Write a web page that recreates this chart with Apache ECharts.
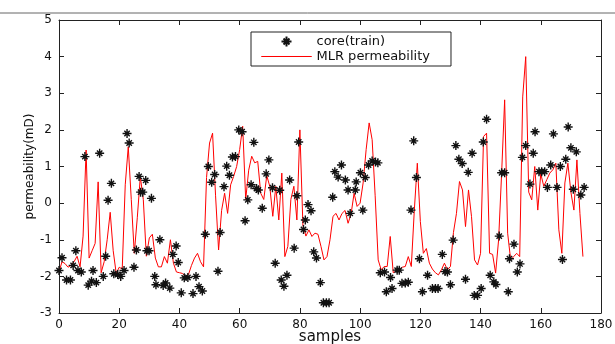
<!DOCTYPE html>
<html>
<head>
<meta charset="utf-8">
<script src="https://cdn.jsdelivr.net/npm/echarts@6/dist/echarts.min.js"></script>
<style>html,body{margin:0;padding:0;background:#fff}#c{width:615px;height:344px}</style>
</head>
<body>
<div id="c"></div>
<script>
// x tick labels / y tick labels
var xTicks = [0, 20, 40, 60, 80, 100, 120, 140, 160, 180];
var yTicks = [-3, -2, -1, 0, 1, 2, 3, 4, 5];

// MLR permeability (line), one value per sample 0..174
var mlrValues = [
 -1.88,-1.6,-1.65,-1.75,-1.7,-1.6,-1.45,-1.74,-0.9,1.45,
 -1.5,-1.3,-1.1,0.58,-1.9,-1.6,-1.0,-0.25,-1.3,-1.92,
 -1.75,-1.8,0.5,1.54,0.1,-1.37,-0.4,0.72,0.1,-1.45,
 -0.95,-0.85,-1.5,-1.74,-1.74,-1.46,-1.64,-1.0,-1.64,-1.88,
 -1.9,-1.92,-2.0,-1.95,-1.7,-1.5,-1.37,-1.6,-1.74,0.7,
 1.64,1.91,0.2,-1.28,-0.2,0.27,-0.28,0.5,0.73,1.0,
 1.46,2.1,0.1,0.9,1.28,1.1,1.14,0.27,0.1,0.75,
 0.46,-0.36,0.46,-0.46,0.82,-1.46,-1.18,0.1,0.46,-0.46,
 2.0,-0.6,-0.9,-0.73,-0.91,-0.82,-0.85,-1.18,-1.55,-1.46,
 -1.0,-0.36,-0.28,-0.46,-0.28,-0.2,-0.55,-0.3,0.27,-0.09,
 0.0,0.55,1.46,2.19,1.73,0.2,-1.55,-1.82,-1.73,-1.73,
 -0.91,-1.9,-1.85,-1.82,-1.75,-1.73,-1.46,-1.73,-0.2,1.09,
 -0.5,-1.37,-1.24,-1.64,-1.8,-1.9,-1.96,-1.82,-1.64,-1.82,
 -1.73,-0.8,-0.28,0.59,0.36,-0.64,0.36,-0.37,-1.55,-1.69,
 -1.37,1.82,1.91,-1.37,-1.4,-1.91,-1.0,0.82,2.82,-0.82,
 -1.55,-1.46,-1.37,-1.46,2.9,4.0,0.3,0.09,1.0,-0.19,
 0.8,0.46,0.64,0.82,0.91,1.09,-0.73,-1.37,0.55,1.09,
 0.3,-0.19,1.18,-0.28,-1.46
];

// core(train) samples: positions and values
var coreX = [
 0,1,2.5,3.8,4.7,5.6,6.3,7.4,8.6,9.7,10.8,11.3,12.4,13.5,14.7,15.5,16.3,17.4,18.2,19.5,
 20.5,21.6,22.6,23.3,24.9,25.7,26.6,27.1,27.8,28.8,29.2,29.9,30.7,31.8,32.2,33.5,34.6,35.4,36.8,37.8,
 38.9,39.6,40.6,41.6,42.8,44.5,45.5,46.5,47.6,48.6,49.6,50.7,51.7,52.8,53.5,54.8,55.7,56.6,57.6,58.6,
 59.7,60.8,61.8,62.7,63.8,64.7,65.6,66.2,67.5,68.8,69.7,70.9,71.8,73.3,73.8,74.7,75.7,76.6,78.1,79.0,
 79.6,81.2,81.8,82.7,83.7,84.6,85.5,86.8,87.8,88.8,89.7,90.9,91.6,92.7,93.8,95.1,96.0,96.7,98.4,98.7,
 100.1,100.9,101.7,102.8,104.0,105.1,105.9,106.7,108.1,108.7,110.1,110.6,112.3,113.0,113.9,115.0,116.0,116.9,117.8,118.7,
 119.7,120.7,122.4,124.0,125.0,125.9,127.3,128.2,129.0,130.0,130.9,131.8,132.8,133.9,135.0,135.9,137.2,137.9,139.0,140.2,
 140.9,142.0,143.2,144.4,145.1,146.2,147.0,148.0,149.2,149.6,151.1,152.2,153.1,153.9,155.0,156.4,157.5,158.1,159.4,160.3,
 161.3,162.2,163.3,164.2,165.4,166.5,167.2,168.3,169.1,170.0,170.8,171.8,173.3,174.4
];
var coreY = [
 -1.84,-1.49,-2.1,-2.1,-1.7,-1.3,-1.84,-1.88,1.27,-2.24,-2.13,-1.84,-2.17,1.36,-2.0,-1.45,0.08,0.54,-1.93,-1.95,
 -2.0,-1.84,1.9,1.64,-1.75,-1.28,0.73,0.3,0.3,0.62,-1.3,-1.3,0.13,-2.0,-2.23,-1.0,-2.25,-2.18,-2.32,-1.4,
 -1.17,-1.62,-2.45,-2.04,-2.03,-2.47,-2.0,-2.28,-2.4,-0.85,1.0,0.57,0.78,-1.86,-0.8,0.45,1.01,0.76,1.26,1.27,
 2.0,1.95,-0.48,0.09,0.5,1.66,0.4,0.36,-0.14,0.8,1.18,0.42,-1.64,0.35,-2.1,-2.27,-1.97,0.63,-1.23,0.2,
 1.67,-0.72,-0.46,-0.04,-0.21,-1.33,-1.5,-2.17,-2.72,-2.72,-2.72,0.16,0.86,0.71,1.04,0.63,0.36,-0.28,0.36,0.58,
 0.83,-0.19,0.7,1.04,1.15,1.12,1.1,-1.9,-1.88,-2.42,-2.03,-2.33,-1.83,-1.83,-2.19,-2.18,-2.16,-0.19,1.7,0.7,
 -1.52,-2.42,-1.97,-2.33,-2.33,-2.33,-1.4,-1.87,-1.88,-2.23,-1.01,1.57,1.2,1.08,-2.08,0.84,1.36,-2.52,-2.52,-2.33,
 1.67,2.29,-1.97,-2.15,-2.22,-0.9,0.83,0.83,-2.42,-1.52,-1.12,-1.88,-1.66,1.25,1.57,0.52,1.36,1.95,0.86,0.86,
 0.86,0.43,1.04,1.89,0.43,1.0,-1.54,1.2,2.08,1.51,0.38,1.4,0.22,0.43
];

var lineData = mlrValues.map(function (v, i) { return [i, v]; });
var coreData = coreX.map(function (x, i) { return [x, coreY[i]]; });

var STAR = 'path://M0,-10L0,10M-10,0L10,0M-6,-6L6,6M-6,6L6,-6';
var FONT = 'DejaVu Sans';

var chart = echarts.init(document.getElementById('c'), null, {renderer: 'canvas'});
var axisCommon = {
  axisLine: {show: true, onZero: false, lineStyle: {color: '#222', width: 1}},
  axisTick: {show: true, inside: true, length: 5, lineStyle: {color: '#222'}},
  splitLine: {show: false}
};
chart.setOption({
  animation: false,
  backgroundColor: '#fff',
  textStyle: {fontFamily: FONT},
  grid: {left: 59, right: 14, top: 20, bottom: 31, containLabel: false, outerBoundsMode: 'none'},
  graphic: [{
    type: 'line', shape: {x1: 0, y1: 13, x2: 615, y2: 13},
    style: {stroke: '#666', lineWidth: 1}
  }],
  legend: {
    orient: 'vertical', left: 251, top: 32,
    padding: [3, 21, 3, 10], itemGap: 2,
    itemWidth: 50, itemHeight: 10,
    borderColor: '#222', borderWidth: 1, backgroundColor: '#fff',
    textStyle: {fontFamily: FONT, fontSize: 13, color: '#111'},
    data: [
      {name: 'core(train)'},
      {name: 'MLR permeability', icon: 'path://M0,0L100,0L100,0.0001L0,0.0001Z', itemStyle: {color: '#ff0000', borderColor: '#ff0000', borderWidth: 1}}
    ]
  },
  xAxis: [
    Object.assign({}, axisCommon, {
      type: 'value', min: xTicks[0], max: xTicks[xTicks.length - 1], interval: 20, position: 'bottom',
      axisLabel: {fontFamily: FONT, fontSize: 12, color: '#111', margin: 6},
      name: 'samples', nameLocation: 'middle', nameGap: 17, nameMoveOverlap: false,
      nameTextStyle: {fontFamily: FONT, fontSize: 15, color: '#111'}
    }),
    Object.assign({}, axisCommon, {
      type: 'value', min: xTicks[0], max: xTicks[xTicks.length - 1], interval: 20, position: 'top',
      axisLabel: {show: false}
    })
  ],
  yAxis: [
    Object.assign({}, axisCommon, {
      type: 'value', min: yTicks[0], max: yTicks[yTicks.length - 1], interval: 1, position: 'left',
      axisLabel: {fontFamily: FONT, fontSize: 12, color: '#111', margin: 7},
      name: 'permeability(mD)', nameLocation: 'middle', nameGap: 23, nameRotate: 90, nameMoveOverlap: false,
      nameTextStyle: {fontFamily: FONT, fontSize: 12, color: '#111'}
    }),
    Object.assign({}, axisCommon, {
      type: 'value', min: yTicks[0], max: yTicks[yTicks.length - 1], interval: 1, position: 'right',
      axisLabel: {show: false}
    })
  ],
  series: [
    {
      name: 'core(train)', type: 'scatter', xAxisIndex: 0, yAxisIndex: 0,
      data: coreData, symbol: STAR, symbolSize: 9,
      itemStyle: {color: 'rgba(0,0,0,0)', borderColor: '#111', borderWidth: 1.4, opacity: 1},
      z: 3
    },
    {
      name: 'MLR permeability', type: 'line', xAxisIndex: 0, yAxisIndex: 0,
      data: lineData, symbol: 'none', showSymbol: false,
      lineStyle: {color: '#ff0000', width: 1},
      itemStyle: {color: '#ff0000'},
      z: 2
    }
  ]
});
</script>
</body>
</html>
